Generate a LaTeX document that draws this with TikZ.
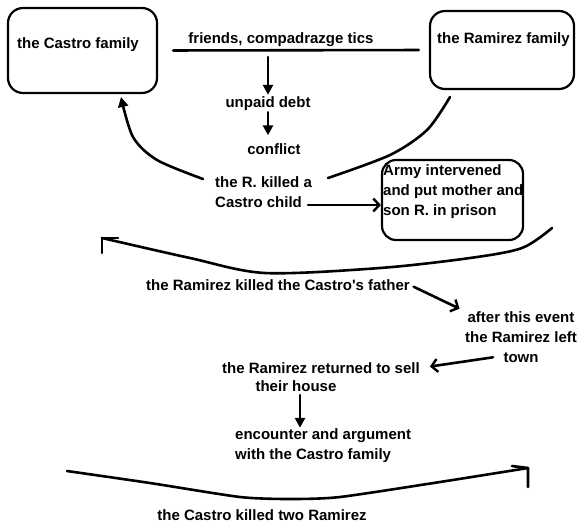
\documentclass[tikz,border=0pt]{standalone}
\usepackage{fontspec}
\setmainfont{Liberation Sans}
\usetikzlibrary{arrows.meta}
\begin{document}
\begin{tikzpicture}[x=1pt,y=-1pt,
  famblock/.style={draw, line width=2.2pt, rounded corners=15pt, inner sep=0pt},
  txt/.style={font=\fontsize{15}{20}\selectfont\bfseries, inner sep=0pt},
  link/.style={line width=2.6pt, line cap=round, line join=round},
  solidhead/.style={-{Triangle[length=10pt,width=10pt]}},
  barbhead/.style={-{Straight Barb[length=6pt,width=13pt,line width=2.4pt]}}]
\fill[white] (0,0) rectangle (580,523);
\useasboundingbox (0,0) rectangle (580,523);

% the two families
\node[famblock, minimum width=149pt, minimum height=85pt] (castro) at (82.5,50.5) {};
\node[txt] (castrotxt) at (78,45) {the Castro family};
\node[famblock, minimum width=144pt, minimum height=78pt] (ramirez) at (502,50) {};
\node[txt, anchor=west] (ramireztxt) at (437,40) {the Ramirez family};

% events
\node[txt] (ties) at (281,40) {friends, compadrazge tics};
\node[txt] (debt) at (268,104) {unpaid debt};
\node[txt] (conflict) at (274,149) {conflict};
\node[txt, align=left, anchor=west] (rkill) at (215,192) {the R. killed a\\Castro child};
\node[famblock, rounded corners=14pt, minimum width=141pt, minimum height=80pt] (army) at (452.5,200) {};
\node[txt, align=left, anchor=west] (armytxt) at (383,192) {Army intervened\\and put mother and\\son R. in prison};
\node[txt] (father) at (278,285) {the Ramirez killed the Castro\textquotesingle s father};
\node[txt, align=center] (lefttown) at (521,337) {after this event\\the Ramirez left\\town};
\node[txt] (returned) at (321,368) {the Ramirez returned to sell};
\node[txt] (house) at (296,386) {their house};
\node[txt, align=left, anchor=west] (encounter) at (235,446) {encounter and argument\\with the Castro family};
\node[txt] (twokilled) at (262,515) {the Castro killed two Ramirez};

% connector end points
\coordinate (tieDrop) at (268,57);
\coordinate (kL) at (203,179);
\coordinate (castroTip) at (121,97);
\coordinate (kR) at (328,178);
\coordinate (ramTail) at (450,97);
\coordinate (childEnd) at (308,205);
\coordinate (armyTail) at (552,228);
\coordinate (hookA) at (102,238);
\coordinate (houseDrop) at (300,395);
\coordinate (botStart) at (67,471);
\coordinate (hookB) at (528,468);

% connectors
\draw[link, shorten <=15pt, shorten >=10pt] (castro.east) -- (ramirez.west);
\draw[link, solidhead, shorten >=2pt] (tieDrop) -- (debt.north);
\draw[link, solidhead, shorten <=1pt, shorten >=8pt] (debt.south) -- (debt.south |- conflict.north);
\draw[link, solidhead] plot[smooth, tension=0.5] coordinates {(kL) (157,160) (133,137) (castroTip)};
\draw[link] plot[smooth, tension=0.5] coordinates {(kR) (390,155) (427,130) (ramTail)};
\draw[link, barbhead] (childEnd) -- (army.west |- childEnd);
\draw[link] plot[smooth, tension=0.5] coordinates {(armyTail) (522,248) (470,258) (380,268) (265,273) (190,258) (hookA)};
\draw[link] (118,238) -- (hookA) -- (102,253);
\draw[link, barbhead, shorten <=4pt, shorten >=6pt] (father.east) -- (lefttown.north west);
\draw[link, barbhead, shorten <=4pt, shorten >=10pt] (lefttown.south) ++(-24,-6) -- (returned.east);
\draw[link, solidhead, shorten >=1pt] (houseDrop) -- (houseDrop |- encounter.north);
\draw[link] plot[smooth, tension=0.4] coordinates {(botStart) (150,483) (240,497) (290,499) (340,497) (440,482) (hookB)};
\draw[link] (512,466) -- (hookB) -- (528,487);
\end{tikzpicture}
\end{document}
